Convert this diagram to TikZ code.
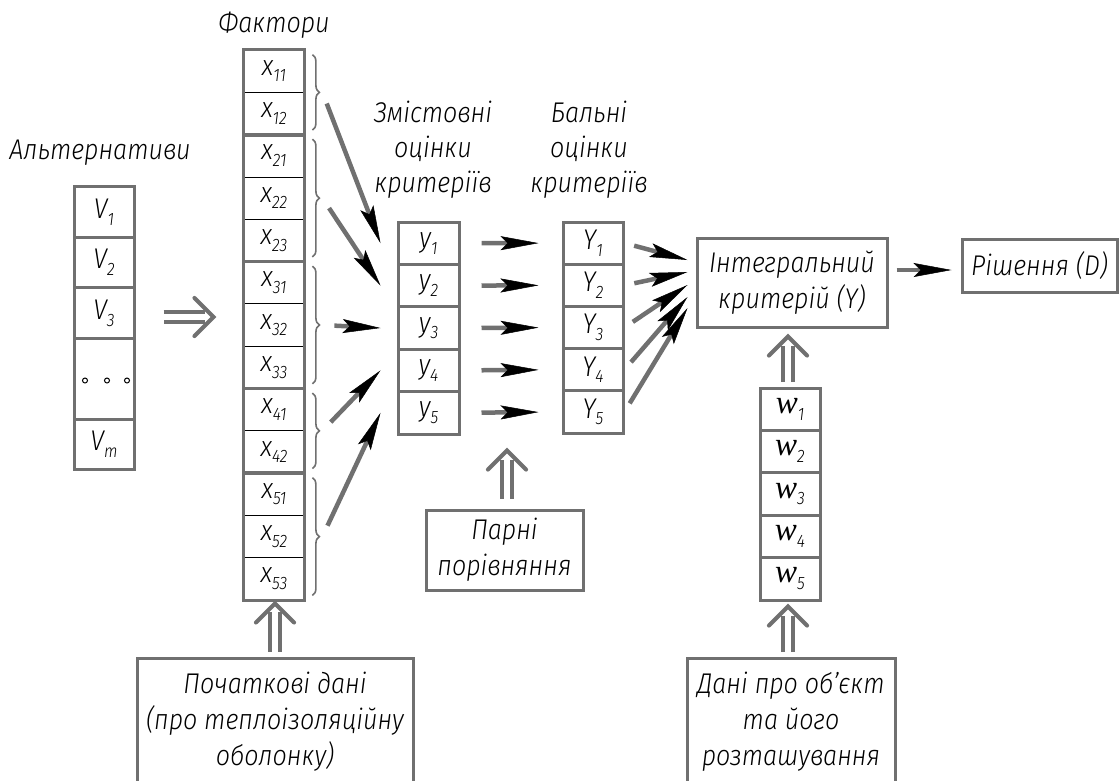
\documentclass[tikz,border=0pt]{standalone}
\usepackage{fontspec}
\setmainfont{Fira Sans Light Italic}[FakeStretch=0.88]
\newfontfamily\wfont{Liberation Serif Italic}
\usetikzlibrary{arrows.meta,calc,decorations.pathreplacing}
\definecolor{lg}{RGB}{112,112,112}
\newcommand\lbl[2]{#1\raisebox{-0.45ex}{\fontsize{18}{18}\selectfont #2}}
\newcommand\dblarr[2]{%
  \draw[dbl] (#1) -- ($(#2)!9pt!(#1)$);
  \draw[chev] ($(#2)!27pt!45:(#1)$) -- (#2) -- ($(#2)!27pt!-45:(#1)$);}
\begin{document}
\begin{tikzpicture}[x=1pt,y=-1pt,
  txt/.style={font=\fontsize{28.5}{35}\selectfont, align=center, inner sep=0},
  cellg/.style={draw=lg, line width=3pt, minimum width=60pt, minimum height=42.3pt, inner sep=0, font=\fontsize{28.5}{30}\selectfont},
  cellx/.style={draw=black, line width=0.8pt, minimum width=60pt, minimum height=42.31pt, inner sep=0, font=\fontsize{28.5}{30}\selectfont},
  frame/.style={draw=lg, line width=3pt},
  box/.style={draw=lg, line width=3pt, align=center, inner sep=0, font=\fontsize{28.5}{36}\selectfont},
  arr/.style={draw=lg, line width=4.5pt, -{Stealth[length=38pt,width=14pt,inset=7pt,line width=0.5pt,color=black]}},
  brc/.style={draw=lg, line width=1.6pt, decorate, decoration={brace, amplitude=7pt}},
  dbl/.style={draw=lg, line width=4pt, double=white, double distance=6pt},
  chev/.style={draw=lg, line width=4pt, line cap=round, line join=miter}
]
\useasboundingbox (0,0) rectangle (1119,780);
\clip (0,0) rectangle (1119,780);

% headings
\node[txt] (lalt) at (100,153) {Альтернативи};
\node[txt] (lfak) at (274,25) {Фактори};
\node[txt] (lzm) at (433,150) {Змістовні\\оцінки\\критеріїв};
\node[txt] (lbal) at (589,150) {Бальні\\оцінки\\критеріїв};

% V column
\node[cellg, minimum height=50.5pt] (v1) at (104,212) {\lbl{V}{1}};
\node[cellg, minimum height=50.5pt] (v2) at (104,262.5) {\lbl{V}{2}};
\node[cellg, minimum height=50.5pt] (v3) at (104,313) {\lbl{V}{3}};
\node[cellg, minimum height=81pt] (v4) at (104,378.5) {};
\node[cellg, minimum height=50pt] (v5) at (104,444) {\lbl{V}{m}};
\foreach \dx in {-19,3,23} \draw[line width=1pt] ($(v4.center)+(\dx,2)$) circle[radius=2.5];

% X column
\foreach \i/\ab in {1/11,2/12,3/21,4/22,5/23,6/31,7/32,8/33,9/41,10/42,11/51,12/52,13/53}
  \node[cellx] (x\i) at (274,{50+(\i-0.5)*42.31}) {\lbl{x}{\ab}};
\draw[frame] (x1.north west) rectangle (x2.south east);
\draw[frame] (x3.north west) rectangle (x5.south east);
\draw[frame] (x6.north west) rectangle (x8.south east);
\draw[frame] (x9.north west) rectangle (x10.south east);
\draw[frame] (x11.north west) rectangle (x13.south east);

% braces
\draw[brc] ($(x1.north east)+(8,5)$) -- ($(x2.south east)+(8,-5)$);
\draw[brc] ($(x3.north east)+(8,5)$) -- ($(x5.south east)+(8,-5)$);
\draw[brc] ($(x6.north east)+(8,5)$) -- ($(x8.south east)+(8,-5)$);
\draw[brc] ($(x9.north east)+(8,5)$) -- ($(x10.south east)+(8,-5)$);
\draw[brc] ($(x11.north east)+(8,5)$) -- ($(x13.south east)+(8,-5)$);
\coordinate (t1) at ($(x1.north east)!0.5!(x2.south east)+(18,0)$);
\coordinate (t2) at ($(x3.north east)!0.5!(x5.south east)+(18,0)$);
\coordinate (t3) at ($(x6.north east)!0.5!(x8.south east)+(18,0)$);
\coordinate (t4) at ($(x9.north east)!0.5!(x10.south east)+(18,0)$);
\coordinate (t5) at ($(x11.north east)!0.5!(x13.south east)+(18,0)$);

% y, Y, w columns
\foreach \i in {1,...,5} {
  \node[cellg, minimum width=61pt, minimum height=42.4pt] (y\i) at (428.5,{222+(\i-0.5)*42.4}) {\lbl{y}{\i}};
  \node[cellg, minimum height=42.2pt] (z\i) at (593,{222+(\i-0.5)*42.2}) {\lbl{Y}{\i}};
  \node[cellg, minimum height=42.4pt] (w\i) at (790,{388+(\i-0.5)*42.4}) {\lbl{{\wfont\fontsize{33}{33}\selectfont w}}{\i}};
}

% boxes
\node[box, minimum width=190pt, minimum height=89pt] (integ) at (792,282.5) {Інтегральний\\критерій (Y)};
\node[box, minimum width=155pt, minimum height=53pt] (resh) at (1039.5,265.5) {Рішення (D)};
\node[box, minimum width=157pt, minimum height=80pt] (parni) at (504.5,550) {Парні\\порівняння};
\node[box, minimum width=276pt, minimum height=128pt] (poch) at (275,722) {Початкові дані\\(про теплоізоляційну\\оболонку)};
\node[box, minimum width=208pt, minimum height=128pt] (dani) at (791,722) {Дані про об’єкт\\та його\\розташування};

% arrows x -> y
\foreach \k in {1,...,5} {
  \coordinate (e\k) at ($(y\k.west)+(-16,0)$);
  \draw[arr, shorten <=12pt] (t\k) -- (e\k);
  \draw[arr, shorten <=21pt, shorten >=23pt] (y\k.east) -- (z\k.west);
}
% arrows Y -> integral
\foreach \k/\off in {1/-22.5,2/-10.5,3/2.5,4/14.5,5/25.5}
  \draw[arr, shorten <=10pt] (z\k.east) -- ($(integ.west)+(-8,\off)$);
\draw[arr] ($(integ.east)+(8,-12.5)$) -- ($(resh.west)+(-9,4.5)$);

% double arrows
\coordinate (da0) at ($(v3.east)+(28,4)$);
\coordinate (da1) at ($(v3.east)+(78,4)$);
\dblarr{da0}{da1}
\coordinate (pa0) at ($(parni.north)+(2.5,-10)$);
\coordinate (pa1) at ($(parni.north)+(2.5,-58)$);
\dblarr{pa0}{pa1}
\coordinate (ia0) at ($(w1.north)+(-2,-5)$);
\coordinate (ia1) at ($(integ.south)+(-4,8)$);
\dblarr{ia0}{ia1}
\coordinate (wa0) at ($(dani.north)+(-3,-5)$);
\coordinate (wa1) at ($(w5.south)+(-2,5)$);
\dblarr{wa0}{wa1}
\coordinate (xa0) at ($(poch.north)+(0,-5)$);
\coordinate (xa1) at ($(x13.south)+(1,3)$);
\dblarr{xa0}{xa1}
\end{tikzpicture}
\end{document}
